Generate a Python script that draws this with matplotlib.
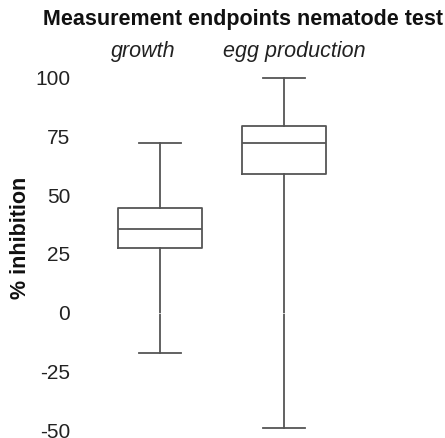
import matplotlib
matplotlib.use("Agg")
import matplotlib.pyplot as plt

plt.rcParams['font.family'] = ['Liberation Sans', 'DejaVu Sans']

# box statistics
groups = ["growth", "egg production"]
whisker_low = [-17, -49]
q1 = [27.5, 59]
median = [35.5, 72]
q3 = [44.5, 79.5]
whisker_high = [72, 100]
yticks = [100, 75, 50, 25, 0, -25, -50]

W, H = 445, 438
fig = plt.figure(figsize=(W / 100, H / 100), dpi=100)
# axes placed in pixel units of the reference
left, right, top, bottom = 80, 440, 70, 436
ax = fig.add_axes([left / W, 1 - bottom / H, (right - left) / W, (bottom - top) / H])

stats = []
for i, g in enumerate(groups):
    stats.append(dict(label=g, whislo=whisker_low[i], q1=q1[i], med=median[i],
                      q3=q3[i], whishi=whisker_high[i], fliers=[]))

col = "#555555"
lw = 1.3
ax.bxp(stats, positions=[1, 2], widths=0.67, capwidths=0.335, showfliers=False,
       boxprops=dict(color=col, linewidth=lw),
       medianprops=dict(color=col, linewidth=lw),
       whiskerprops=dict(color=col, linewidth=lw),
       capprops=dict(color=col, linewidth=lw))
ax.axhline(0, color="white", linewidth=0.5, zorder=5)

# pixel -> data mapping: value v at y = 312.7 - 2.35 v ; x: pos1 at 160px, 124 px per unit
ax.set_xlim(1 - (160 - left) / 124, 2 + (right - 160 - 124) / 124)
ax.set_ylim((312.7 - bottom) / 2.35, (312.7 - top) / 2.35)

ax.set_yticks(yticks)
ax.set_yticklabels([str(t) for t in yticks], fontsize=15, color="#222222")
ax.tick_params(axis='y', length=0, pad=7)
ax.set_xticks([])
for s in ax.spines.values():
    s.set_visible(False)

fig.text(243 / W, 1 - 19 / H, "Measurement endpoints nematode test", ha="center", va="center",
         fontsize=15.5, fontweight="bold", color="#111111")
fig.text(143 / W, 1 - 52 / H, groups[0], ha="center", va="center", fontsize=15.5,
         style="italic", color="#222222")
fig.text(294 / W, 1 - 52 / H, groups[1], ha="center", va="center", fontsize=15.5,
         style="italic", color="#222222")
fig.text(21 / W, 1 - 238 / H, "% inhibition", ha="center", va="center", rotation=90,
         fontsize=15.5, fontweight="bold", color="#111111")

fig.savefig("out.png", dpi=100)
